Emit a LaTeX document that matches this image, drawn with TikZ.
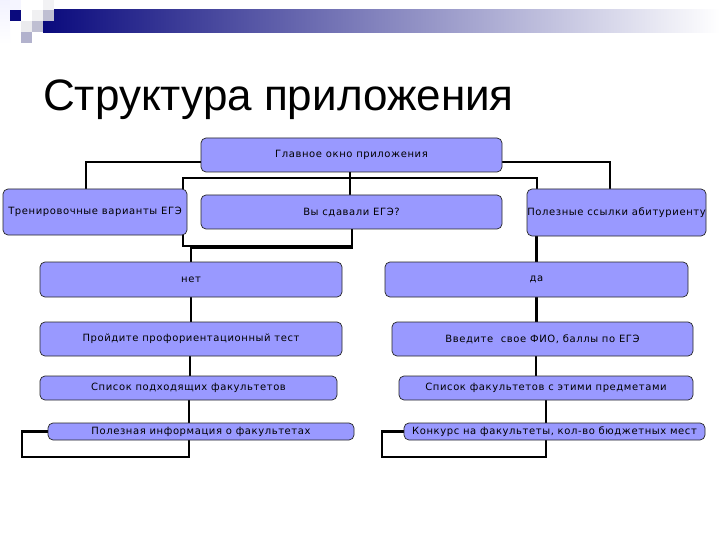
\documentclass[tikz,border=0pt]{standalone}
\usepackage{fontspec}
\usetikzlibrary{backgrounds}
\newfontfamily\boxfont[LetterSpace=6]{DejaVu Sans}
\newfontfamily\titlefont{Liberation Sans}
\definecolor{boxfill}{RGB}{153,153,255}
\definecolor{navy}{RGB}{10,10,125}
\tikzset{
  box/.style={draw=black!85, fill=boxfill, rounded corners=5pt, line width=0.7pt,
    inner sep=0pt, font=\boxfont\fontsize{10}{12}\selectfont, text=black},
  conn/.style={draw=black, line width=2.2pt, line cap=rect},
  sq/.style={draw=none}
}
\begin{document}
\begin{tikzpicture}[x=1pt,y=-1pt]
\useasboundingbox (0,0) rectangle (720,540);
% decoration
\fill[left color=navy, right color=white] (43,10) rectangle (720,33);
\fill[top color=black!3!blue!5, bottom color=white] (0,0) rectangle (10,44);
\fill[sq, fill=blue!4!white] (10,0) rectangle (21,10);
\fill[sq, fill=navy] (10,10) rectangle (21,21);
\fill[sq, fill=blue!15!black!5] (43,0) rectangle (54,10);
\fill[sq, fill=blue!12!black!6] (32,10) rectangle (43,21);
\fill[sq, fill=blue!30!black!25] (43,10) rectangle (54,21);
\fill[sq, fill=blue!15!black!8] (21,21) rectangle (32,32);
\fill[sq, fill=blue!30!black!25] (32,21) rectangle (43,32);
\fill[sq, fill=blue!35!black!30] (21,32) rectangle (32,43);
% title
\node[anchor=base west, inner sep=0pt, font=\titlefont\fontsize{44}{50}\selectfont] (title) at (43,111) {Структура приложения};
% boxes
\node[box, minimum width=301pt, minimum height=34pt] (main) at (351.5,155) {Главное окно приложения};
\node[box, minimum width=184pt, minimum height=46pt] (tren) at (95,212) {Тренировочные варианты ЕГЭ};
\node[box, minimum width=301pt, minimum height=34pt] (vy) at (351.5,212) {Вы сдавали ЕГЭ?};
\node[box, minimum width=179pt, minimum height=47pt] (polez) at (616.5,212.5) {Полезные ссылки абитуриенту};
\node[box, minimum width=302pt, minimum height=35pt] (net) at (191,279.5) {нет};
\node[box, minimum width=303pt, minimum height=35pt] (da) at (536.5,279.5) {да};
\node[box, minimum width=302pt, minimum height=34pt] (proid) at (191,339) {Пройдите профориентационный тест};
\node[box, minimum width=301pt, minimum height=34pt] (vved) at (542.5,339) {Введите\ \ свое ФИО, баллы по ЕГЭ};
\node[box, minimum width=297pt, minimum height=24pt] (spis1) at (188.5,388) {Список подходящих факультетов};
\node[box, minimum width=294pt, minimum height=24pt] (spis2) at (546,388) {Список факультетов с этими предметами};
\node[box, minimum width=306pt, minimum height=17pt] (info) at (201,431.5) {Полезная информация о факультетах};
\node[box, minimum width=301pt, minimum height=17pt] (konk) at (554.5,431.5) {Конкурс на факультеты, кол-во бюджетных мест};
% connectors
\begin{scope}[on background layer]
\fill[white] (0,0) rectangle (720,540);
\draw[conn] ([yshift=-7pt]main.west) -| ([xshift=-9pt]tren.north);
\draw[conn] ([yshift=-7pt]main.east) -| ([xshift=-6.5pt]polez.north);
\draw[conn] ([xshift=-1.5pt]main.south) -- ([xshift=-1.5pt]vy.north);
\draw[conn] ([xshift=88pt]tren.north) -- ++(0,-11) -| ([xshift=-79.5pt]polez.north);
\draw[conn] ([xshift=88pt]tren.south) -- ++(0,11) -| ([xshift=0.5pt]vy.south);
\draw[conn] ([xshift=0.5pt]vy.south) -- ++(0,19) -| (net.north);
\draw[conn] (da.north) -- (da.north |- polez.south);
\draw[conn] (net.south) -- (proid.north);
\draw[conn] ([xshift=-1pt]proid.south) -- ([xshift=-1pt]proid.south |- spis1.north);
\draw[conn] ([xshift=0.5pt]spis1.south) |- ([xshift=-26pt,yshift=-25.5pt]info.west) |- (info.west);
\draw[conn] (da.south) -- (da.south |- vved.north);
\draw[conn] ([xshift=-6.5pt]vved.south) -- ([xshift=-6.5pt]vved.south |- spis2.north);
\draw[conn] (spis2.south) |- ([xshift=-22pt,yshift=-25.5pt]konk.west) |- (konk.west);
\end{scope}
\end{tikzpicture}
\end{document}
